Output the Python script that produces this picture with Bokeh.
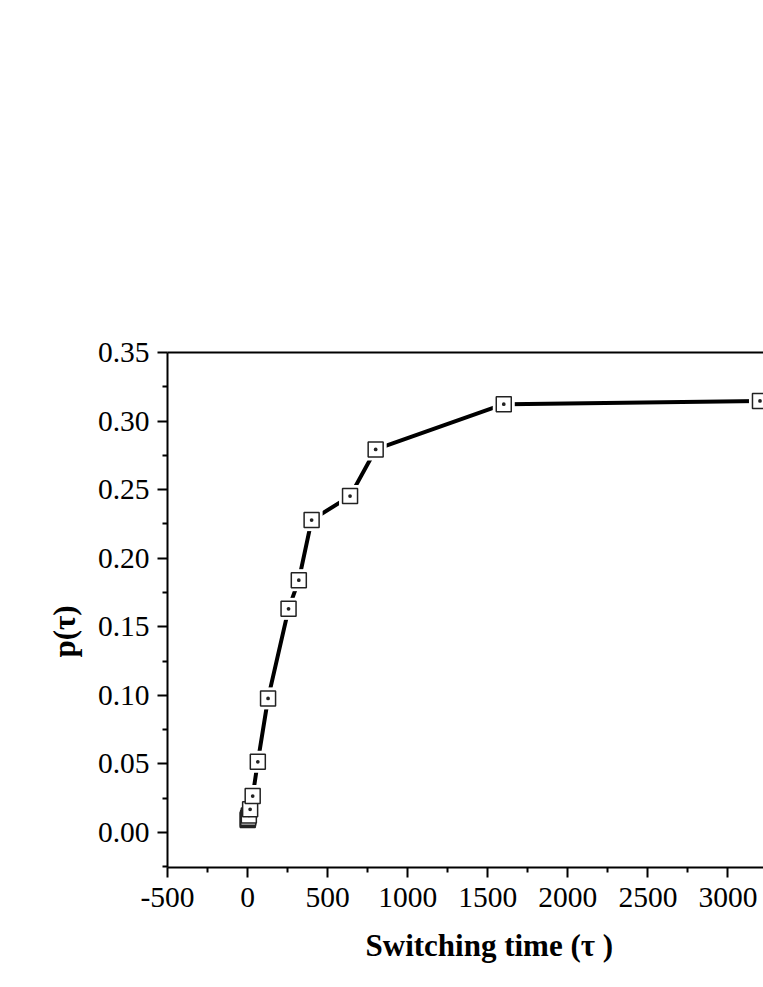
from bokeh.plotting import figure
from bokeh.models import (LinearAxis, Title, Range1d, FixedTicker,
                          NumeralTickFormatter, ColumnDataSource)
from bokeh.embed import file_html
from bokeh.resources import INLINE

# ---- data ----
switching_time = [1, 2, 4, 8, 16, 32, 64, 128, 256, 320, 400, 640, 800, 1600, 3200]
p_tau = [0.0092, 0.0098, 0.0108, 0.0125, 0.0169, 0.0266, 0.0516, 0.0978,
         0.1631, 0.1840, 0.2278, 0.2453, 0.2793, 0.3123, 0.3147]

x_major_ticks = [-500, 0, 500, 1000, 1500, 2000, 2500, 3000]
x_minor_ticks = [-250, 250, 750, 1250, 1750, 2250, 2750, 3250]
y_major_ticks = [0.00, 0.05, 0.10, 0.15, 0.20, 0.25, 0.30, 0.35]
y_minor_ticks = [-0.025, 0.025, 0.075, 0.125, 0.175, 0.225, 0.275, 0.325]

x_title = "Switching time (τ )"
y_title = "p(τ)"

FONT = "Liberation Serif"

src = ColumnDataSource(dict(x=switching_time, y=p_tau))

p = figure(width=763, height=980, output_backend="svg", toolbar_location=None,
           x_range=Range1d(-500, 3222), y_range=Range1d(-0.0255, 0.35),
           min_border_left=167, min_border_right=0, min_border_top=352,
           min_border_bottom=113, x_axis_location=None, y_axis_location=None)
p.grid.visible = False
p.outline_line_color = None
p.background_fill_color = "white"
p.border_fill_color = "white"


def style_axis(ax):
    ax.axis_line_width = 2
    ax.axis_line_color = "black"
    ax.major_tick_line_width = 2
    ax.minor_tick_line_width = 2
    ax.major_tick_line_color = "black"
    ax.minor_tick_line_color = "black"
    ax.major_tick_out = 10
    ax.major_tick_in = 0
    ax.minor_tick_out = 5
    ax.minor_tick_in = 0
    ax.major_label_text_font = FONT
    ax.major_label_text_font_size = "29.5px"
    ax.major_label_text_color = "black"


xaxis = LinearAxis(ticker=FixedTicker(ticks=x_major_ticks, minor_ticks=x_minor_ticks),
                   formatter=NumeralTickFormatter(format="0"))
style_axis(xaxis)
xaxis.major_label_standoff = 10
p.add_layout(xaxis, "below")

yaxis = LinearAxis(ticker=FixedTicker(ticks=y_major_ticks, minor_ticks=y_minor_ticks),
                   formatter=NumeralTickFormatter(format="0.00"))
style_axis(yaxis)
yaxis.major_label_standoff = 8
p.add_layout(yaxis, "left")

top = LinearAxis(ticker=FixedTicker(ticks=[]), axis_line_width=2, axis_line_color="black",
                 major_tick_line_color=None, minor_tick_line_color=None,
                 major_label_text_font_size="0px")
p.add_layout(top, "above")

xt = Title(text=x_title, align="left", text_font=FONT, text_font_size="31px",
           text_font_style="bold", text_color="black", offset=198, standoff=32)
p.add_layout(xt, "below")

yt = Title(text=y_title, align="left", text_font=FONT, text_font_size="31px",
           text_font_style="bold", text_color="black", offset=210, standoff=25)
p.add_layout(yt, "left")

p.line("x", "y", source=src, line_width=4, line_color="black")
p.scatter("x", "y", source=src, marker="square", size=22, fill_color="white",
          line_color=None)
p.scatter("x", "y", source=src, marker="square_dot", size=15, fill_color="white",
          line_color="#222222", line_width=1.5)

open("out.html", "w").write(file_html(p, INLINE))
